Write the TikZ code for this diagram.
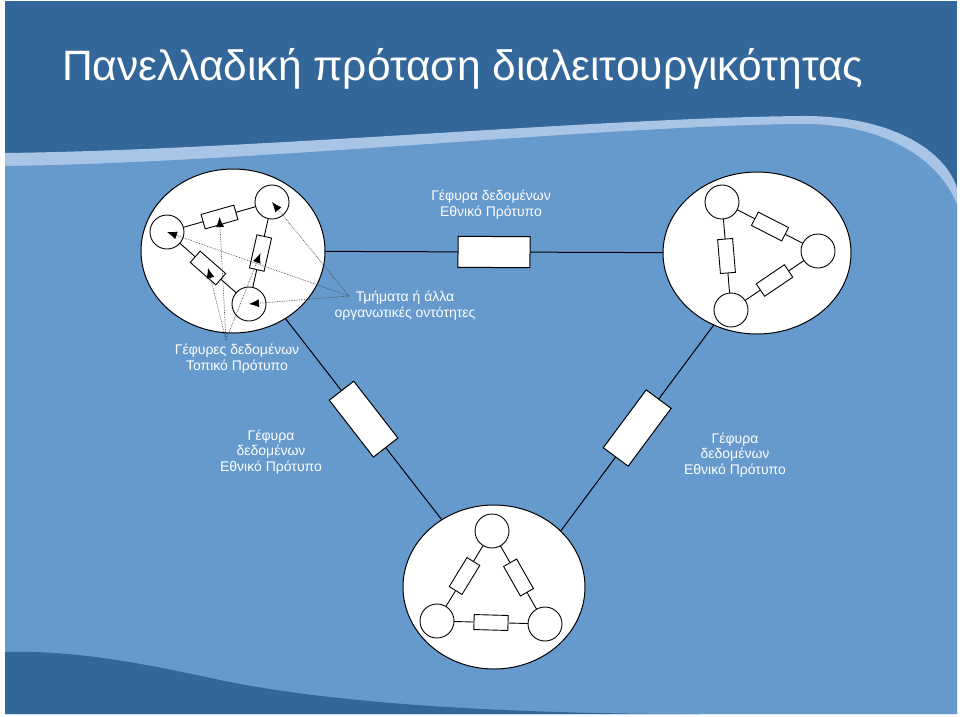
\documentclass[tikz,border=0pt]{standalone}
\usepackage{fontspec}
\setmainfont{Liberation Sans}
\usetikzlibrary{arrows.meta,shapes.geometric}
\definecolor{darkbg}{HTML}{336699}
\definecolor{midbg}{HTML}{6699CC}
\definecolor{stripe}{HTML}{A9C5E6}
\begin{document}
\begin{tikzpicture}[x=1pt,y=-1pt,
  every node/.style={inner sep=0pt, outer sep=0pt},
  cloud/.style={ellipse, draw=black, fill=white, line width=1pt},
  dev/.style={circle, draw=black, fill=white, line width=0.9pt, minimum size=34pt},
  res/.style={rectangle, draw=black, fill=white, line width=0.9pt, minimum width=34pt, minimum height=15pt, sloped},
  bigres/.style={rectangle, draw=black, fill=white, line width=1pt, minimum width=72pt, minimum height=31pt, sloped},
  wire/.style={draw=black, line width=0.9pt},
  link/.style={draw=black, line width=1pt},
  pointer/.style={draw=black!70, densely dotted, line width=0.7pt, -{Latex[length=10pt,width=8pt,black]}},
  lbl/.style={text=white, font=\fontsize{14}{15.8}\selectfont, align=center}
]
\useasboundingbox (0,0) rectangle (960,716);
\fill[white] (0,0) rectangle (960,716);
% background
\fill[darkbg] (5,1) rectangle (957,714);
\fill[stripe] (5,153) .. controls (250,150) and (600,118) .. (800,116) .. controls (890,115) and (945,150) .. (957,188) -- (957,714) -- (5,714) -- cycle;
\fill[midbg] (5,166) .. controls (250,163) and (600,126) .. (800,124) .. controls (885,123) and (940,160) .. (957,205) -- (957,714) -- (5,714) -- cycle;
\fill[darkbg] (5,652) .. controls (80,650) and (150,665) .. (220,680) .. controls (330,703) and (500,714) .. (700,714) -- (5,714) -- cycle;

% title
\node[anchor=base west, text=white, font=\fontsize{42.5}{48}\selectfont] (title) at (62,80) {Πανελλαδική πρόταση διαλειτουργικότητας};

% clouds
\node[cloud, minimum width=184pt, minimum height=164pt] (L) at (233,251) {};
\node[cloud, minimum width=188pt, minimum height=162pt] (R) at (757,253) {};
\node[cloud, minimum width=182pt, minimum height=164pt] (Bo) at (494,587) {};

% links between clouds
\draw[link] (L) -- node[bigres] (nLR) {} (R);
\draw[link] (L) -- node[bigres] (nLB) {} (Bo);
\draw[link] (R.239) -- node[bigres] (nRB) {} (Bo.40);

% left cloud devices
\node[dev] (A) at (167,232) {};
\node[dev] (B) at (272,202) {};
\node[dev] (C) at (249,304) {};
\draw[wire] (A) -- node[res] (rAB) {} (B);
\draw[wire] (A) -- node[res] (rAC) {} (C);
\draw[wire] (B) -- node[res] (rBC) {} (C);

% right cloud devices
\node[dev] (D) at (722,202) {};
\node[dev] (E) at (818,251) {};
\node[dev] (F) at (731,310) {};
\draw[wire] (D) -- node[res] (rDE) {} (E);
\draw[wire] (D) -- node[res] (rDF) {} (F);
\draw[wire] (E) -- node[res] (rEF) {} (F);

% bottom cloud devices
\node[dev] (G) at (492,531) {};
\node[dev] (H) at (437,621) {};
\node[dev] (I) at (545,624) {};
\draw[wire] (G) -- node[res] (rGH) {} (H);
\draw[wire] (G) -- node[res] (rGI) {} (I);
\draw[wire] (H) -- node[res] (rHI) {} (I);

% pointers
\coordinate (gsrc) at (226,340);
\coordinate (tsrc) at (349,296);
\draw[pointer] (gsrc) -- (rAB.center);
\draw[pointer] (gsrc) -- (rAC.center);
\draw[pointer] (gsrc) -- (rBC.center);
\draw[pointer] (tsrc) -- (A.center);
\draw[pointer] (tsrc) -- (B.center);
\draw[pointer] (tsrc) -- (C.center);

% labels
\node[lbl] (lTop) at (491,205) {Γέφυρα δεδομένων\\Εθνικό Πρότυπο};
\node[lbl] (lOrg) at (405,306) {Τμήματα ή άλλα\\οργανωτικές οντότητες};
\node[lbl] (lLoc) at (237,359) {Γέφυρες δεδομένων\\Τοπικό Πρότυπο};
\node[lbl] (lNat1) at (271,452) {Γέφυρα\\δεδομένων\\Εθνικό Πρότυπο};
\node[lbl] (lNat2) at (735,455) {Γέφυρα\\δεδομένων\\Εθνικό Πρότυπο};
\end{tikzpicture}
\end{document}
